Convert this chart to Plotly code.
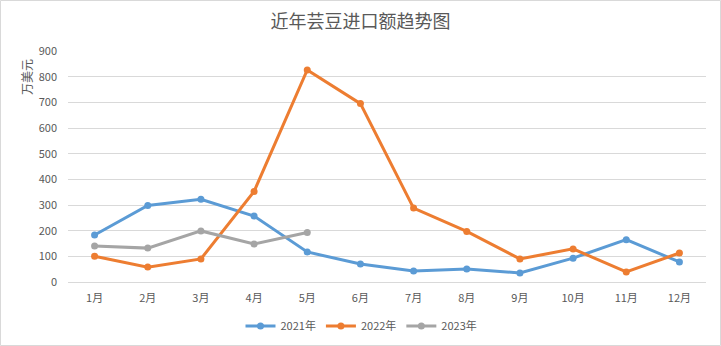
import plotly.graph_objects as go

# Monthly kidney bean import value (10k USD)
months = ["1月", "2月", "3月", "4月", "5月", "6月", "7月", "8月", "9月", "10月", "11月", "12月"]
y2021 = [183, 298, 322, 257, 117, 70, 43, 51, 35, 93, 165, 78]
y2022 = [100, 58, 90, 353, 826, 695, 288, 197, 90, 129, 39, 113]
y2023 = [140, 132, 199, 148, 193]
series_names = ["2021年", "2022年", "2023年"]
colors = ["#5B9BD5", "#ED7D31", "#A5A5A5"]

W, H = 721, 346
ML, MR, MT, MB = 68, 15, 51, 64
PW, PH = W - ML - MR, H - MT - MB

FONT = "Noto Sans CJK SC"
TXT = "#595959"

fig = go.Figure()
for name, vals, col in zip(series_names, [y2021, y2022, y2023], colors):
    fig.add_trace(go.Scatter(
        x=months[:len(vals)], y=vals, name=name, mode="lines+markers",
        line=dict(color=col, width=3),
        marker=dict(color=col, size=7, symbol="circle"),
    ))

def px_x(p):
    return (p - ML) / PW

def px_y(p):
    return (H - MB - p) / PH

fig.update_layout(
    width=W, height=H,
    margin=dict(l=ML, r=MR, t=MT, b=MB, autoexpand=False),
    paper_bgcolor="white", plot_bgcolor="white",
    font=dict(family=FONT, color=TXT, size=11),
    title=dict(text="近年芸豆进口额趋势图", x=0.5, xanchor="center",
               y=1 - 22 / H, yanchor="middle",
               font=dict(family=FONT, size=18, color=TXT)),
    xaxis=dict(type="category", categoryorder="array", categoryarray=months,
               range=[-0.5, 11.5], showgrid=False, zeroline=False,
               showline=True, linecolor="#D9D9D9", linewidth=1,
               ticks="", ticklabelstandoff=6,
               tickfont=dict(size=11, color=TXT, family=FONT)),
    yaxis=dict(range=[0, 900], tickvals=list(range(0, 901, 100)),
               showgrid=True, gridcolor="#D9D9D9", gridwidth=1,
               zeroline=False, showline=False, ticks="",
               ticklabelstandoff=10,
               tickfont=dict(size=11, color=TXT, family=FONT)),
    legend=dict(orientation="h", xref="container", x=0.5 + 1 / W, xanchor="center",
                yref="container", y=1 - 326 / H, yanchor="middle",
                font=dict(size=11, color=TXT, family=FONT),
                itemwidth=30, tracegroupgap=0),
    showlegend=True,
)

# Vertical axis unit label
fig.add_annotation(text="万美元", xref="paper", yref="paper",
                   x=px_x(26.5), y=px_y(76.5), xanchor="center", yanchor="middle",
                   textangle=-90, showarrow=False,
                   font=dict(size=12, color=TXT, family=FONT))

# Chart frame
fig.add_shape(type="rect", xref="paper", yref="paper",
              x0=px_x(0.5), x1=px_x(720.5), y0=px_y(345.5), y1=px_y(0.5),
              line=dict(color="#D9D9D9", width=1), layer="below")

fig.write_html("out.html")
